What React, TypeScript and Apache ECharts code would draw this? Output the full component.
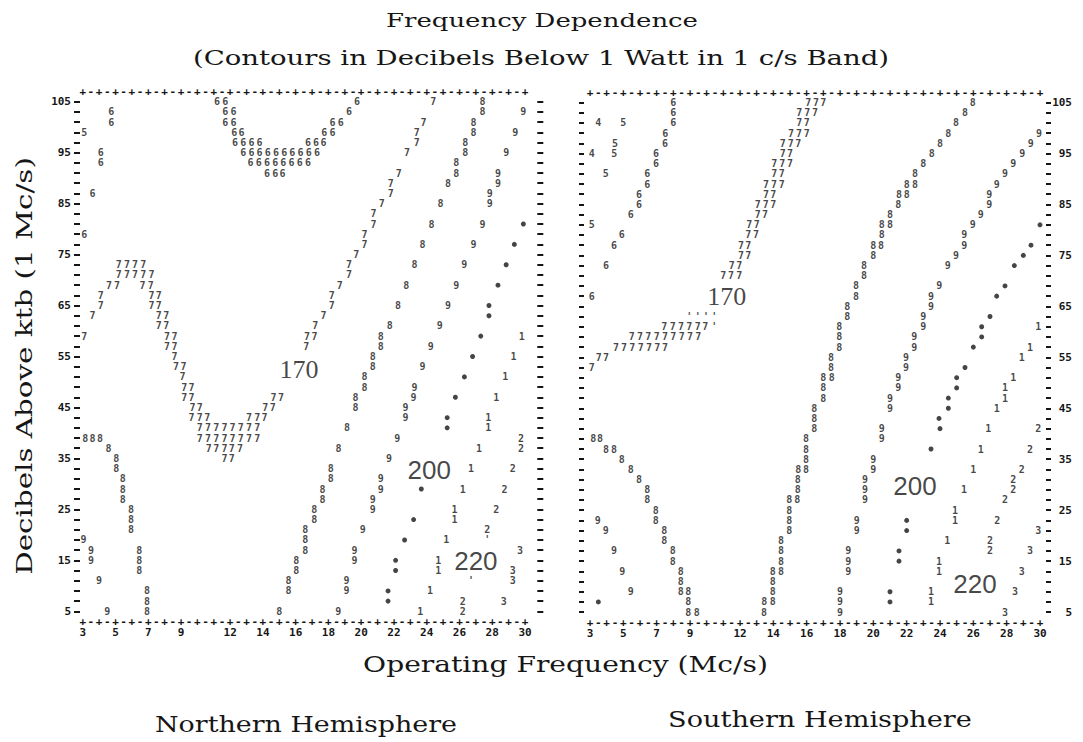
import React, { useEffect, useRef } from 'react';
import * as echarts from 'echarts';

// ---------- tick labels ----------
const X_TICK_LABELS = [3, 5, 7, 9, 12, 14, 16, 18, 20, 22, 24, 26, 28, 30];
const Y_TICK_LABELS = [105, 95, 85, 75, 65, 55, 45, 35, 25, 15, 5];

// ---------- Northern Hemisphere: printed contour characters [MHz, dB] ----------
const N_5 = [[3.1, 99]];
const N_6 = [
  [4.75, 103], [4.75, 101], [4.1, 95], [4.1, 93], [3.6, 87], [3.1, 79],
  [11.2, 105], [11.7, 105], [19.75, 105],
  [11.7, 103], [12.2, 103], [19.25, 103],
  [11.7, 101], [12.2, 101], [18.25, 101], [18.75, 101],
  [12.25, 99], [12.7, 99], [17.75, 99], [18.25, 99],
  [12.3, 97], [12.8, 97], [13.3, 97], [13.8, 97], [16.75, 97], [17.25, 97], [17.7, 97],
  [12.8, 95], [13.3, 95], [13.8, 95], [14.3, 95], [14.8, 95], [15.3, 95], [15.8, 95], [16.3, 95], [16.8, 95], [17.3, 95],
  [13.25, 93], [13.75, 93], [14.25, 93], [14.75, 93], [15.25, 93], [15.75, 93], [16.25, 93], [16.75, 93],
  [14.25, 91], [14.75, 91], [15.2, 91],
];
const N_7 = [
  [5.2, 73], [5.7, 73], [6.2, 73], [6.7, 73],
  [5.2, 71], [5.7, 71], [6.2, 71], [6.7, 71], [7.2, 71],
  [4.6, 69], [5.1, 69], [6.65, 69], [7.15, 69],
  [4.1, 67], [7.2, 67], [7.65, 67],
  [4.1, 65], [7.2, 65], [7.65, 65],
  [3.6, 63], [7.65, 63], [8.1, 63],
  [7.65, 61], [8.1, 61],
  [3.1, 59], [8.15, 59], [8.6, 59],
  [8.15, 57], [8.6, 57],
  [8.6, 55],
  [8.7, 53], [9.15, 53],
  [9.1, 51],
  [9.2, 49], [9.65, 49],
  [9.2, 47], [9.65, 47], [14.65, 47], [15.1, 47],
  [9.7, 45], [10.15, 45], [14.15, 45], [14.6, 45],
  [9.65, 43], [10.15, 43], [10.6, 43], [13.15, 43], [13.65, 43], [14.1, 43],
  [10.15, 41], [10.65, 41], [11.15, 41], [11.65, 41], [12.15, 41], [12.65, 41], [13.15, 41], [13.65, 41],
  [10.15, 39], [10.65, 39], [11.15, 39], [11.65, 39], [12.15, 39], [12.65, 39], [13.15, 39], [13.65, 39],
  [10.7, 37], [11.15, 37], [11.65, 37], [12.1, 37], [12.6, 37],
  [11.65, 35], [12.1, 35],
  [16.65, 57], [16.7, 59], [17.15, 59], [17.2, 61], [17.7, 63], [18.2, 65], [18.2, 67], [18.7, 69],
  [19.25, 71], [19.25, 73], [19.7, 75], [20.2, 77], [20.2, 79], [20.75, 81], [20.75, 83], [21.25, 85],
  [21.8, 87], [21.8, 89], [22.3, 91], [22.8, 95], [23.4, 97], [23.4, 99], [23.8, 101], [24.4, 105],
];
const N_8 = [
  [27.4, 105], [27.4, 103], [26.85, 101], [26.85, 99], [26.35, 97], [26.35, 95], [25.8, 93], [25.8, 91],
  [25.3, 89], [24.85, 85], [24.3, 81], [23.75, 77], [23.25, 73], [22.75, 69], [22.25, 65], [21.75, 61],
  [21.2, 59], [21.2, 57], [20.7, 55], [20.7, 53], [20.2, 51], [20.2, 49], [19.65, 47], [19.65, 45],
  [19.13, 41], [18.62, 37], [18.15, 33], [18.15, 31], [17.64, 29], [17.64, 27], [17.13, 25], [17.13, 23],
  [16.58, 21], [16.58, 19], [16.58, 17], [16.03, 15], [16.03, 13], [15.56, 11], [15.56, 9], [15.0, 5],
  [3.15, 39], [3.6, 39], [4.05, 39], [4.57, 37], [5.05, 35], [5.05, 33], [5.45, 31], [5.45, 29], [5.45, 27],
  [5.95, 25], [5.95, 23], [5.95, 21], [6.46, 17], [6.46, 15], [6.46, 13], [6.93, 9], [6.93, 7], [6.93, 5],
];
const N_9 = [
  [3.05, 19], [3.5, 17], [3.5, 15], [4.0, 11], [4.5, 5],
  [29.9, 103], [29.4, 99], [28.85, 95], [28.35, 91], [28.35, 89], [27.85, 87], [27.85, 85], [27.4, 81],
  [26.85, 77], [26.3, 73], [25.8, 69], [25.3, 65], [24.8, 61], [24.25, 57], [23.75, 53], [23.25, 49],
  [23.2, 47], [22.7, 45], [22.7, 43], [22.2, 39], [21.7, 35], [21.2, 31], [21.2, 29], [20.7, 27],
  [20.7, 25], [20.1, 21], [19.6, 17], [19.6, 15], [19.1, 11], [19.1, 9], [18.6, 5],
];
const N_DOT = [
  [30.4, 85], [29.9, 81], [29.35, 77], [28.85, 73], [28.35, 69], [27.8, 65], [27.8, 63], [27.3, 59],
  [26.8, 55], [26.3, 51], [25.75, 47], [25.25, 43], [25.25, 41], [23.67, 29], [23.2, 23], [22.65, 19],
  [22.1, 15], [22.1, 13], [21.64, 9], [21.64, 7],
];
const N_1 = [
  [30.3, 65], [30.3, 63], [29.8, 59], [29.3, 55], [28.8, 51], [28.25, 47], [27.75, 43], [27.75, 41],
  [27.2, 37], [26.7, 33], [26.2, 29], [25.7, 25], [25.7, 23], [25.2, 19], [24.7, 15], [24.7, 13],
  [24.2, 9], [23.6, 5],
];
const N_2 = [[30.2, 43], [29.75, 39], [29.75, 37], [29.25, 33], [28.75, 29], [28.25, 25], [27.7, 21], [26.2, 7], [26.2, 5]];
const N_3 = [[30.2, 21], [29.7, 17], [29.25, 13], [29.25, 11], [28.7, 7]];
const N_TICK = [[26.7, 11], [27.7, 19]];
const N_LABEL_170 = [[16.2, 52.5]];
const N_LABEL_200 = [[24.15, 32.7]];
const N_LABEL_220 = [[27.0, 14.8]];

// ---------- Southern Hemisphere ----------
const S_4 = [[3.5, 101], [3.1, 95]];
const S_5 = [[5.0, 101], [4.5, 97], [4.45, 95], [3.95, 91], [3.1, 81]];
const S_6 = [
  [8.0, 105], [8.0, 103], [8.0, 101], [7.52, 99], [7.5, 97], [6.96, 95], [6.96, 93], [6.44, 91],
  [6.44, 89], [5.94, 87], [5.94, 85], [5.44, 83], [4.9, 79], [4.44, 77], [3.96, 73], [3.1, 67],
];
const S_7 = [
  [16.1, 105], [16.56, 105], [17.0, 105],
  [15.56, 103], [16.04, 103], [16.5, 103],
  [15.56, 101], [16.0, 101],
  [15.06, 99], [15.54, 99], [16.0, 99],
  [14.56, 97], [15.04, 97], [15.5, 97],
  [14.56, 95], [15.0, 95],
  [14.06, 93], [14.54, 93], [15.0, 93],
  [14.06, 91], [14.5, 91],
  [13.56, 89], [14.04, 89], [14.5, 89],
  [13.56, 87], [14.0, 87],
  [13.06, 85], [13.54, 85], [14.0, 85],
  [13.06, 83], [13.5, 83],
  [12.56, 81], [13.0, 81],
  [12.5, 79], [12.96, 79],
  [12.06, 77], [12.5, 77],
  [12.06, 75], [12.5, 75],
  [11.5, 73], [11.96, 73],
  [11.0, 71], [11.46, 71], [11.96, 71],
  [7.46, 61], [7.96, 61], [8.46, 61], [8.96, 61], [9.46, 61], [9.92, 61],
  [5.5, 59], [6.0, 59], [6.5, 59], [7.0, 59], [7.5, 59], [8.0, 59], [8.5, 59], [9.0, 59], [9.5, 59],
  [4.56, 57], [5.04, 57], [5.54, 57], [6.04, 57], [6.54, 57], [7.04, 57], [7.5, 57],
  [3.52, 55], [3.96, 55],
  [3.1, 53],
];
const S_TICK = [[8.96, 63], [9.46, 63], [9.96, 63], [10.46, 63], [10.46, 61]];
const S_8 = [
  [25.96, 105], [25.5, 103], [24.96, 101], [24.5, 99], [24.0, 97], [23.5, 95], [23.0, 93], [22.5, 91],
  [22.0, 89], [22.5, 89], [21.54, 87], [22.0, 87], [21.5, 85], [21.0, 83], [20.5, 81], [21.0, 81],
  [20.5, 79], [20.0, 77], [20.46, 77], [20.0, 75], [19.44, 73], [19.44, 71], [18.96, 69], [18.96, 67],
  [18.44, 65], [18.44, 63], [17.96, 61], [17.96, 59], [17.96, 57], [17.46, 55], [17.46, 53], [17.0, 51],
  [17.5, 51], [17.0, 49], [17.0, 47], [16.46, 45], [16.46, 43], [16.46, 41], [15.96, 39], [15.96, 37],
  [15.96, 35], [15.5, 33], [15.96, 33], [15.46, 31], [15.46, 29], [14.96, 27], [15.44, 27], [14.96, 25],
  [14.96, 23], [14.96, 21], [14.46, 19], [14.46, 17], [14.46, 15], [13.96, 13], [14.46, 13], [13.96, 11],
  [13.96, 9], [13.46, 7], [13.96, 7], [13.44, 5],
  [3.2, 39], [3.6, 39], [3.96, 37], [4.44, 37], [4.9, 35], [5.44, 33], [5.94, 31], [6.44, 29], [6.44, 27],
  [6.94, 25], [6.94, 23], [7.46, 21], [7.46, 19], [7.96, 17], [7.96, 15], [8.44, 13], [8.44, 11],
  [8.44, 9], [8.9, 9], [8.9, 7], [8.9, 5], [9.4, 5],
];
const S_9 = [
  [3.46, 23], [3.94, 21], [4.44, 17], [4.94, 13], [5.44, 9],
  [29.94, 99], [29.44, 97], [28.94, 95], [28.4, 93], [27.9, 91], [27.4, 89], [26.96, 87], [26.96, 85],
  [26.44, 83], [25.96, 81], [25.46, 79], [25.46, 77], [24.96, 75], [24.46, 73], [23.96, 69], [23.46, 67],
  [23.46, 65], [23.0, 63], [23.0, 61], [22.46, 59], [22.46, 57], [21.96, 55], [21.96, 53], [21.5, 51],
  [21.5, 49], [21.0, 47], [21.0, 45], [20.5, 41], [20.5, 39], [20.0, 35], [20.0, 33], [19.5, 31],
  [19.5, 29], [19.5, 27], [19.0, 23], [19.0, 21], [18.5, 17], [18.5, 15], [18.5, 13], [18.0, 9],
  [18.0, 7], [18.0, 5],
];
const S_DOT = [
  [3.5, 7], [30.0, 81], [29.46, 77], [29.0, 75], [28.46, 73], [27.9, 69], [27.4, 67], [27.0, 63],
  [26.5, 61], [26.5, 59], [26.0, 57], [25.5, 53], [25.0, 51], [25.0, 49], [24.5, 47], [24.5, 45],
  [23.94, 43], [24.0, 41], [23.46, 37], [22.0, 23], [22.0, 21], [21.54, 17], [21.54, 15], [21.0, 9], [21.0, 7],
];
const S_1 = [
  [29.9, 61], [29.4, 57], [28.9, 55], [28.4, 51], [27.9, 49], [27.9, 47], [27.4, 45], [26.9, 41],
  [26.44, 37], [26.0, 33], [25.44, 29], [24.9, 25], [24.9, 23], [24.44, 19], [23.94, 15], [23.94, 13],
  [23.46, 9], [23.46, 7],
];
const S_2 = [[29.9, 41], [29.4, 37], [28.9, 33], [28.4, 31], [28.4, 29], [27.9, 27], [27.44, 23], [27.0, 19], [27.0, 17]];
const S_3 = [[29.9, 21], [29.4, 17], [28.9, 13], [28.5, 9], [27.9, 5]];
const S_LABEL_170 = [[11.2, 66.9]];
const S_LABEL_200 = [[22.5, 29.8]];
const S_LABEL_220 = [[26.1, 10.6]];

const NORTH_CHARS: [string, number[][]][] = [
  ['5', N_5], ['6', N_6], ['7', N_7], ['8', N_8], ['9', N_9], ['1', N_1], ['2', N_2], ['3', N_3], ["'", N_TICK],
];
const SOUTH_CHARS: [string, number[][]][] = [
  ['4', S_4], ['5', S_5], ['6', S_6], ['7', S_7], ['8', S_8], ['9', S_9], ['1', S_1], ['2', S_2], ['3', S_3], ["'", S_TICK],
];

// printer rows (every 2 dB) at which the axis dashes are printed
const Y_ROWS: number[] = [];
for (let v = 5; v <= 105; v += 2) Y_ROWS.push(v);

// ---------- styling ----------
const INK = '#161616';
const MONO = "'DejaVu Sans Mono', 'Liberation Mono', monospace";
const SERIF = "'DejaVu Serif', 'Liberation Serif', serif";
const monoLabel = { fontFamily: MONO, fontWeight: 'bold' as const, fontSize: 11, lineHeight: 8, color: INK };
const charLabel = { ...monoLabel, fontSize: 10 };

const TITLES = [
  { text: 'Frequency Dependence', x: 542, y: 20, size: 19, width: 312, rot: 0 },
  { text: '(Contours in Decibels Below 1 Watt in 1 c/s Band)', x: 541, y: 58, size: 20, width: 697, rot: 0 },
  { text: 'Decibels Above ktb (1 Mc/s)', x: 24, y: 366, size: 22, width: 418, rot: 90 },
  { text: 'Operating Frequency (Mc/s)', x: 565.5, y: 665, size: 22, width: 405, rot: 0 },
  { text: 'Northern Hemisphere', x: 306, y: 724, size: 22, width: 302, rot: 0 },
  { text: 'Southern Hemisphere', x: 820, y: 719.5, size: 22, width: 304, rot: 0 },
];

function measure(text: string, font: string): number {
  const ctx = document.createElement('canvas').getContext('2d');
  if (!ctx) return text.length * 11;
  ctx.font = font;
  return ctx.measureText(text).width;
}

const plusMinus = (v: number) => (Math.abs(v - Math.round(v)) < 1e-6 ? '+' : '-');

function buildOption() {
  const grids = [
    { left: 82.7, top: 91.5, width: 442.3, height: 530 },
    { left: 590, top: 92.3, width: 450, height: 530 },
  ];
  const xAxes: any[] = [];
  grids.forEach((_, g) => {
    const base = {
      type: 'value', gridIndex: g, min: 3, max: 30,
      axisLine: { show: false }, axisTick: { show: false }, splitLine: { show: false },
    };
    xAxes.push({ ...base, position: 'bottom', interval: 0.5, axisLabel: { ...monoLabel, formatter: plusMinus, margin: 0, verticalAlign: 'middle' } });
    xAxes.push({ ...base, position: 'top', interval: 0.5, axisLabel: { ...monoLabel, formatter: plusMinus, margin: 0, verticalAlign: 'middle' } });
    xAxes.push({
      ...base, position: 'bottom', interval: 1,
      axisLabel: { ...monoLabel, margin: 7, formatter: (v: number) => (X_TICK_LABELS.includes(v) ? String(v) : '') },
    });
  });
  const dashTick = (len: number) => ({
    show: true, customValues: Y_ROWS, length: len, inside: false,
    lineStyle: { color: INK, width: 2 },
  });
  const yAxis = (g: number, position: string, offset: number, tickLen: number, label: any) => ({
    type: 'value', gridIndex: g, min: 3, max: 107, position, offset,
    axisLine: { show: false }, splitLine: { show: false },
    axisTick: tickLen > 0 ? dashTick(tickLen) : { show: false },
    axisLabel: label,
  });
  const numLabels = (margin: number, align?: string) => ({
    ...monoLabel, show: true, margin, customValues: Y_TICK_LABELS, ...(align ? { align } : {}),
    formatter: (v: number) => String(v),
  });
  const yAxes: any[] = [
    yAxis(0, 'left', 2.7, 6, numLabels(9)),
    yAxis(0, 'right', 12.3, 6, { show: false }),
    yAxis(1, 'left', 6, 5, { show: false }),
    yAxis(1, 'right', 6, 5, numLabels(26, 'right')),
  ];

  const series: any[] = [];
  const charSeries = (ch: string, pts: number[][], xi: number, yi: number) => ({
    type: 'scatter', xAxisIndex: xi, yAxisIndex: yi, data: pts, silent: true,
    symbol: 'rect', symbolSize: 1, itemStyle: { color: 'rgba(0,0,0,0)' },
    label: { show: true, position: 'inside', formatter: ch, ...charLabel },
  });
  const dotSeries = (pts: number[][], xi: number, yi: number) => ({
    type: 'scatter', xAxisIndex: xi, yAxisIndex: yi, data: pts, silent: true,
    symbol: 'circle', symbolSize: 5, itemStyle: { color: INK },
  });
  const bigLabel = (txt: string, pts: number[][], xi: number, yi: number, serif: boolean) => ({
    type: 'scatter', xAxisIndex: xi, yAxisIndex: yi, data: pts, silent: true,
    symbol: 'rect', symbolSize: 1, itemStyle: { color: 'rgba(0,0,0,0)' },
    label: {
      show: true, position: 'inside', formatter: txt, color: INK,
      fontFamily: serif ? "'Liberation Serif', serif" : "'Liberation Sans', sans-serif",
      fontSize: 26, lineHeight: 20, fontWeight: 'normal',
    },
  });

  NORTH_CHARS.forEach(([ch, pts]) => series.push(charSeries(ch, pts, 0, 0)));
  series.push(dotSeries(N_DOT, 0, 0));
  series.push(bigLabel('170', N_LABEL_170, 0, 0, true));
  series.push(bigLabel('200', N_LABEL_200, 0, 0, false));
  series.push(bigLabel('220', N_LABEL_220, 0, 0, false));

  SOUTH_CHARS.forEach(([ch, pts]) => series.push(charSeries(ch, pts, 3, 2)));
  series.push(dotSeries(S_DOT, 3, 2));
  series.push(bigLabel('170', S_LABEL_170, 3, 2, true));
  series.push(bigLabel('200', S_LABEL_200, 3, 2, false));
  series.push(bigLabel('220', S_LABEL_220, 3, 2, false));

  const graphic = TITLES.map((t) => {
    const font = `${t.size}px ${SERIF}`;
    const w = measure(t.text, font);
    return {
      type: 'text', x: t.x, y: t.y, rotation: (t.rot * Math.PI) / 180,
      scaleX: w > 0 ? t.width / w : 1, silent: true,
      style: { text: t.text, font, fill: INK, align: 'center', verticalAlign: 'middle', textAlign: 'center', textVerticalAlign: 'middle' },
    };
  });

  return {
    animation: false,
    backgroundColor: '#ffffff',
    grid: grids.map((g) => ({ ...g, containLabel: false, outerBoundsMode: 'none' })),
    xAxis: xAxes,
    yAxis: yAxes,
    series,
    graphic,
  };
}

export default function App() {
  const ref = useRef<HTMLDivElement>(null);
  useEffect(() => {
    if (!ref.current) return;
    const chart = echarts.init(ref.current, undefined, { renderer: 'svg' });
    chart.setOption(buildOption() as any);
    return () => chart.dispose();
  }, []);
  return (
    <div
      ref={ref}
      style={{ position: 'absolute', left: 0, top: 0, width: 1083, height: 742, background: '#fff' }}
    />
  );
}
